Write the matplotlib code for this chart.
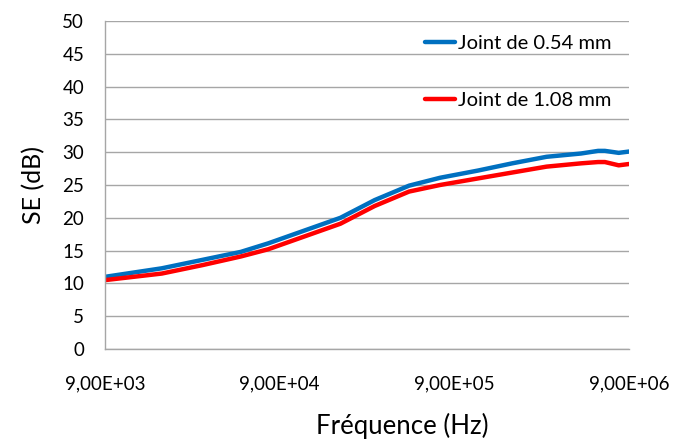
import numpy as np
import matplotlib
matplotlib.use("Agg")
import matplotlib.pyplot as plt
from matplotlib.ticker import NullLocator

# Data (log-decade offsets from 9 kHz)
decades = [0.0, 0.325, 0.56, 0.777, 0.934, 1.072, 1.348, 1.544, 1.741, 1.918,
           2.135, 2.331, 2.528, 2.725, 2.823, 2.862, 2.941, 3.0]
freq = [9e3 * 10 ** d for d in decades]
se_054 = [11.0, 12.3, 13.6, 14.8, 16.1, 17.4, 20.0, 22.7, 24.9, 26.1,
          27.2, 28.3, 29.3, 29.8, 30.2, 30.2, 29.9, 30.1]
se_108 = [10.5, 11.5, 12.8, 14.1, 15.2, 16.5, 19.1, 21.8, 24.0, 25.0,
          26.0, 26.9, 27.8, 28.3, 28.5, 28.5, 28.0, 28.2]
xticks = [9e3, 9e4, 9e5, 9e6]
xtick_labels = ["9,00E+03", "9,00E+04", "9,00E+05", "9,00E+06"]
yticks = list(range(0, 51, 5))
labels = ["Joint de 0.54 mm", "Joint de 1.08 mm"]

plt.rcParams['font.family'] = ['Lato', 'DejaVu Sans']

fig = plt.figure(figsize=(6.77, 4.41), dpi=100)
ax = fig.add_axes([105/677, 1-349/441, (629-105)/677, (349-21)/441])

ax.plot(freq, se_054, color='#0070C0', lw=3.2, label=labels[0], solid_capstyle='round')
ax.plot(freq, se_108, color='#FF0000', lw=3.2, label=labels[1], solid_capstyle='round')

ax.set_xscale('log')
ax.set_xlim(9e3, 9e6)
ax.set_ylim(0, 50)
ax.set_xticks(xticks)
ax.set_xticklabels(xtick_labels)
ax.xaxis.set_minor_locator(NullLocator())
ax.set_yticks(yticks)
ax.tick_params(axis='both', length=0, labelsize=13.5, colors='black')
ax.tick_params(axis='x', pad=19)
ax.tick_params(axis='y', pad=15)

ax.grid(axis='y', color='#A6A6A6', lw=1)
ax.set_axisbelow(True)
for s in ['top', 'right']:
    ax.spines[s].set_visible(False)
for s in ['left', 'bottom']:
    ax.spines[s].set_color('#A6A6A6')
    ax.spines[s].set_linewidth(1)

ax.set_xlabel("Fréquence (Hz)", fontsize=18.5)
ax.xaxis.set_label_coords((402-105)/524, -(426-349)/328, transform=ax.transAxes)
ax.xaxis.label.set_va('center')
ax.set_ylabel("SE (dB)", fontsize=18, labelpad=12)

ax.legend(loc='upper left', bbox_to_anchor=(0.61, 0.958), frameon=False,
          borderaxespad=0, borderpad=0,
          fontsize=14.5, handlelength=1.5, handletextpad=0.15, labelspacing=2.0)

fig.savefig("out.png", dpi=100)
